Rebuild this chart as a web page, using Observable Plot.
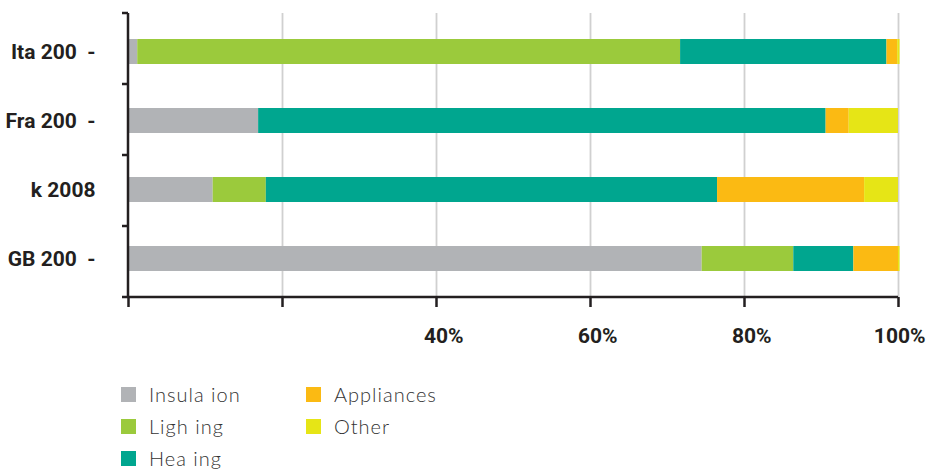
<!DOCTYPE html>
<html><head><meta charset="utf-8">
<script src="https://cdn.jsdelivr.net/npm/d3@7"></script>
<script src="https://cdn.jsdelivr.net/npm/@observablehq/plot@0.6"></script>
<style>
body{margin:0;background:#fff;}
#chart svg{display:block;}
.legend{display:grid;grid-auto-flow:column;grid-template-rows:repeat(3,32px);grid-template-columns:185px 185px;margin-left:121px;padding-top:13px;font-family:Lato,"Open Sans",sans-serif;font-weight:300;font-size:20px;letter-spacing:1px;color:#333;}
.item{display:flex;align-items:center;white-space:pre;}
.sw{width:15px;height:15px;margin-right:13px;flex:none;}
</style></head><body>
<div id="chart"></div>
<script>
const countries = ["Ita 200\u00a0\u00a0-", "Fra 200\u00a0\u00a0-", "k 2008", "GB 200\u00a0\u00a0-"];
const types = ["Insula ion", "Ligh ing", "Hea ing", "Appliances", "Other"];
const colors = ["#b1b3b6", "#9bca3c", "#00a68f", "#fbba13", "#e6e516"];
const insulation = [1.2, 16.9, 11.0, 74.5];
const lighting   = [70.5, 0, 6.9, 11.9];
const heating    = [26.8, 73.7, 58.6, 7.8];
const appliances = [1.4, 3.0, 19.1, 5.8];
const other      = [0.3, 6.4, 4.4, 0.2];
const xTicks = [0, 20, 40, 60, 80, 100];
const xTickLabels = ["", "", "40%", "60%", "80%", "100%"];

const seriesValues = [insulation, lighting, heating, appliances, other];
const data = countries.flatMap((c, i) => types.map((t, j) => ({country: c, type: t, value: seriesValues[j][i]})));
const tickLabel = new Map(xTicks.map((t, i) => [t, xTickLabels[i]]));
const ink = "#231f20";

function frame(index, scales, values, dims) {
  const {marginLeft: ml, marginTop: mt, height: h, marginBottom: mb} = dims;
  const x = scales.x, y = scales.y;
  const bottom = h - mb;
  const g = d3.create("svg:g").attr("stroke", ink).attr("stroke-width", 2.5).attr("fill", "none");
  g.append("line").attr("x1", ml - 6).attr("x2", x(100)).attr("y1", bottom).attr("y2", bottom);
  g.append("line").attr("x1", x(0)).attr("x2", x(0)).attr("y1", mt).attr("y2", bottom);
  const [r0, r1] = y.range();
  const n = y.domain().length;
  d3.range(n).forEach(i => {
    const b = r0 + i * (r1 - r0) / n;
    g.append("line").attr("x1", ml - 6).attr("x2", x(0)).attr("y1", b).attr("y2", b);
  });
  return g.node();
}

const chart = Plot.plot({
  width: 933,
  height: 365,
  marginLeft: 128,
  marginRight: 35,
  marginTop: 13,
  marginBottom: 68,
  style: {fontFamily: "Roboto, sans-serif", fontWeight: "bold", fontSize: "21px", color: ink, background: "#fff"},
  x: {domain: [0, 100], label: null},
  y: {domain: countries, paddingInner: 0.641, paddingOuter: 0.358, label: null},
  color: {domain: types, range: colors},
  marks: [
    Plot.gridX(xTicks.slice(1), {stroke: "#d0d0d0", strokeOpacity: 1, strokeWidth: 1.8}),
    Plot.barX(data, Plot.stackX({x: "value", y: "country", fill: "type"})),
    Plot.axisX({ticks: xTicks, tickFormat: () => "", tickSize: 10, strokeWidth: 2.5, color: ink}),
    Plot.axisX({ticks: xTicks, tickFormat: d => tickLabel.get(d), tickSize: 0, tickPadding: 31, textAnchor: "end", dx: 27, color: ink, fontSize: 21}),
    Plot.axisY({tickSize: 0, tickPadding: 33, color: ink, fontSize: 21}),
    frame
  ]
});
document.getElementById("chart").appendChild(chart);

const legend = document.createElement("div");
legend.className = "legend";
types.forEach((t, i) => {
  const item = document.createElement("div");
  item.className = "item";
  const sw = document.createElement("span");
  sw.className = "sw";
  sw.style.background = colors[i];
  item.appendChild(sw);
  item.appendChild(document.createTextNode(t));
  legend.appendChild(item);
});
document.body.appendChild(legend);
</script>
</body></html>
